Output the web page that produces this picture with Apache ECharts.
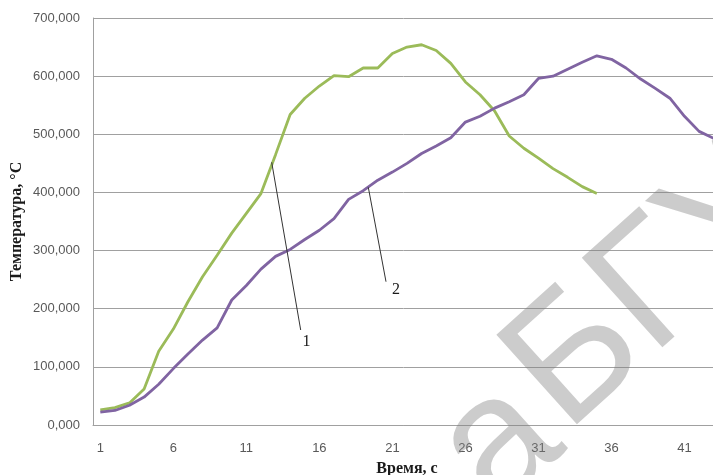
<!DOCTYPE html>
<html>
<head>
<meta charset="utf-8">
<script src="https://cdn.jsdelivr.net/npm/echarts@6/dist/echarts.min.js"></script>
<style>
  html, body { margin: 0; padding: 0; background: #fff; overflow: hidden; }
  #chart { width: 713px; height: 475px; }
</style>
</head>
<body>
<div id="chart"></div>
<script>
// Time, s
const categories = ['1','2','3','4','5','6','7','8','9','10','11','12','13','14','15','16','17','18','19','20',
  '21','22','23','24','25','26','27','28','29','30','31','32','33','34','35','36','37','38','39','40','41','42','43'];

// Curve 1 (green), °C
const curve1 = [26, 30, 38, 62, 127, 165, 212, 255, 292, 330, 364, 398, 465, 534, 562, 583, 601, 599, 614, 614,
  639, 650, 654, 644, 622, 590, 568, 540, 497, 476, 459, 441, 426, 410, 398];

// Curve 2 (purple), °C
const curve2 = [22, 25, 34, 48, 70, 97, 122, 146, 167, 215, 240, 268, 290, 302, 319, 335, 355, 388, 403, 421,
  435, 450, 467, 480, 494, 521, 531, 545, 556, 568, 596, 600, 612, 624, 635, 629, 614, 595, 579, 562, 531, 505, 493];

const yTicks = { min: 0, max: 700, interval: 100 };

const chart = echarts.init(document.getElementById('chart'), null, { renderer: 'canvas' });

const tickFont = { fontFamily: 'Liberation Sans', fontSize: 13, color: '#595959' };
const titleFont = { fontFamily: 'Liberation Serif', fontWeight: 'bold', fontSize: 16, color: '#1a1a1a' };
const wmFont = '175px "Liberation Sans"';
const wmFill = 'rgba(128,128,128,0.4)';

chart.setOption({
  animation: false,
  backgroundColor: '#ffffff',
  // the plot area runs on past the right edge of the canvas
  grid: { left: 93, top: 18, bottom: 50, width: 628, containLabel: false, outerBoundsMode: 'none' },
  xAxis: {
    type: 'category',
    data: categories,
    boundaryGap: true,
    name: 'Время, с',
    nameLocation: 'middle',
    nameGap: 36,
    nameMoveOverlap: false,
    nameTextStyle: titleFont,
    axisLine: { show: true, lineStyle: { color: '#a0a0a0', width: 1 } },
    axisTick: { show: false },
    axisLabel: { interval: 4, margin: 17, ...tickFont },
    splitLine: { show: false }
  },
  yAxis: {
    type: 'value',
    min: yTicks.min,
    max: yTicks.max,
    interval: yTicks.interval,
    name: 'Температура, °С',
    nameLocation: 'middle',
    nameGap: 68,
    nameMoveOverlap: false,
    nameRotate: 90,
    nameTextStyle: titleFont,
    axisLine: { show: true, lineStyle: { color: '#a0a0a0', width: 1 } },
    axisTick: { show: false },
    axisLabel: {
      margin: 13,
      ...tickFont,
      formatter: v => v.toFixed(3).replace('.', ',')
    },
    splitLine: { show: true, lineStyle: { color: '#a0a0a0', width: 1 } }
  },
  series: [
    {
      name: '1',
      type: 'line',
      data: curve1,
      showSymbol: false,
      smooth: false,
      lineStyle: { color: '#9bbb59', width: 2.8 },
      itemStyle: { color: '#9bbb59' },
      z: 3
    },
    {
      name: '2',
      type: 'line',
      data: curve2,
      showSymbol: false,
      smooth: false,
      lineStyle: { color: '#8064a2', width: 2.8 },
      itemStyle: { color: '#8064a2' },
      z: 3
    }
  ],
  graphic: [
    // leader line and label for curve 1
    { type: 'line', shape: { x1: 271.7, y1: 162.3, x2: 300.7, y2: 330 }, style: { stroke: '#333', lineWidth: 1 }, z: 10 },
    { type: 'text', x: 306.5, y: 341.5, style: { text: '1', font: '16px "Liberation Serif"', fill: '#1a1a1a', textAlign: 'center', textVerticalAlign: 'middle' }, z: 10 },
    // leader line and label for curve 2
    { type: 'line', shape: { x1: 368.3, y1: 187.3, x2: 386, y2: 281.7 }, style: { stroke: '#333', lineWidth: 1 }, z: 10 },
    { type: 'text', x: 396, y: 290, style: { text: '2', font: '16px "Liberation Serif"', fill: '#1a1a1a', textAlign: 'center', textVerticalAlign: 'middle' }, z: 10 },
    // watermark
    { type: 'text', x: 500, y: 445, rotation: 0.733, style: { text: 'а', font: wmFont, fill: wmFill, textAlign: 'center', textVerticalAlign: 'middle' }, z: 20 },
    { type: 'text', x: 534, y: 398, rotation: 0.733, style: { text: 'БГУ', font: wmFont, fill: wmFill, textAlign: 'left', textVerticalAlign: 'middle' }, z: 20 }
  ]
});
</script>
</body>
</html>
